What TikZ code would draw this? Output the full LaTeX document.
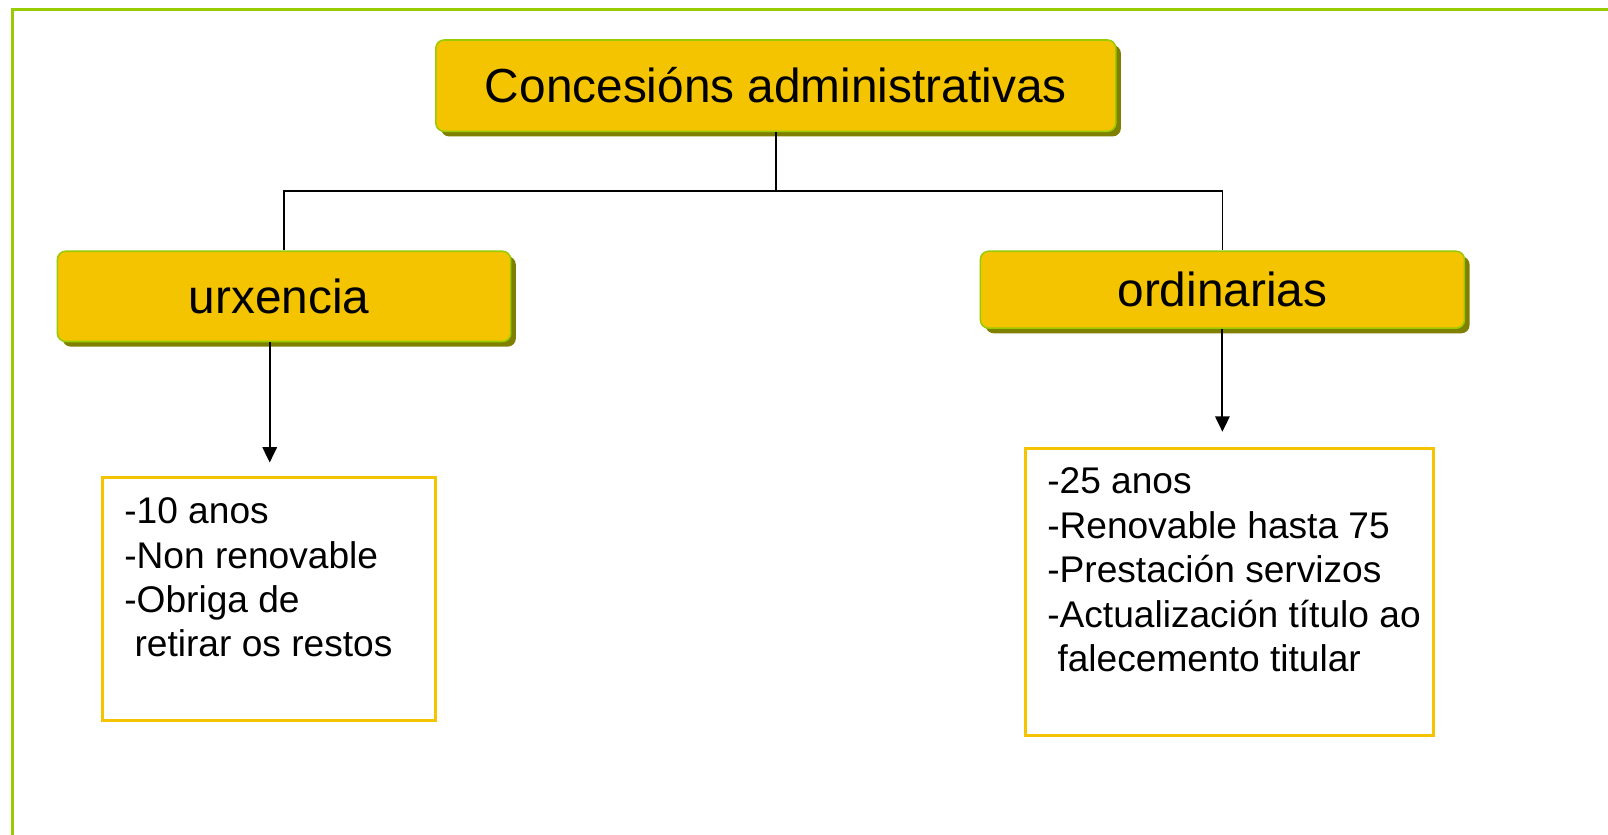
\documentclass[tikz,border=0pt]{standalone}
\usepackage{fontspec}
\setmainfont{Liberation Sans}
\usetikzlibrary{shadows,arrows.meta,calc}
\definecolor{frameg}{HTML}{99CC00}
\definecolor{boxy}{HTML}{F5C400}
\definecolor{shad}{HTML}{808000}
\tikzset{
  headbox/.style={draw=frameg, line width=1.5pt, fill=boxy, rounded corners=8pt,
    drop shadow={shadow xshift=5pt, shadow yshift=-5pt, fill=shad, opacity=1},
    inner sep=0pt, font=\fontsize{46.6}{52}\selectfont},
  infobox/.style={draw=boxy, line width=3pt, inner sep=0pt},
  infotxt/.style={anchor=base west, inner sep=0pt, font=\fontsize{36.2}{43.5}\selectfont},
  conn/.style={line width=1.5pt, black},
  arr/.style={line width=2pt, black, -{Triangle[length=15pt,width=14pt]}}
}
\begin{document}
\begin{tikzpicture}[x=1pt,y=-1pt]
% frame
\draw[frameg, line width=3pt] (12.5,814.2) -- (12.5,9.5) -- (1568,9.5);
% heading boxes
\node[headbox, minimum width=663pt, minimum height=89pt] (top) at (756.5,83.5) {Concesións administrativas};
\node[headbox, minimum width=442pt, minimum height=88pt] (urx) at (277,289) {\hspace*{-10pt}urxencia};
\node[headbox, minimum width=472pt, minimum height=75pt] (ord) at (1192,282.5) {ordinarias};
% connectors
\coordinate (hub) at (756.5,186);
\draw[conn] (top.south) -- (hub);
\draw[conn] (hub) -| (urx.north);
\draw[conn] (hub) -| (ord.north);
% arrows
\coordinate (a1) at (263,451);
\coordinate (a2) at (1192,421);
\draw[arr] (urx.south -| a1) -- (a1);
\draw[arr] (ord.south -| a2) -- (a2);
% info boxes
\node[infobox, minimum width=325pt, minimum height=237pt] (lb) at (262.5,584.5) {};
\node[infobox, minimum width=398pt, minimum height=280pt] (rb) at (1199,577) {};
% left text
\node[infotxt] (l1) at (121,510) {-10 anos};
\node[infotxt] (l2) at (121,554) {-Non renovable};
\node[infotxt] (l3) at (121,597) {-Obriga de};
\node[infotxt] (l4) at (121,640) {\hspace{10pt}retirar os restos};
% right text
\node[infotxt] (r1) at (1021,481) {-25 anos};
\node[infotxt] (r2) at (1021,525) {-Renovable hasta 75};
\node[infotxt] (r3) at (1021,568) {-Prestación servizos};
\node[infotxt] (r4) at (1021,612) {-Actualización título ao};
\node[infotxt] (r5) at (1021,655) {\hspace{10pt}falecemento titular};
\pgfresetboundingbox
\path[use as bounding box] (0,0) rectangle (1568,814.2);
\end{tikzpicture}
\end{document}
